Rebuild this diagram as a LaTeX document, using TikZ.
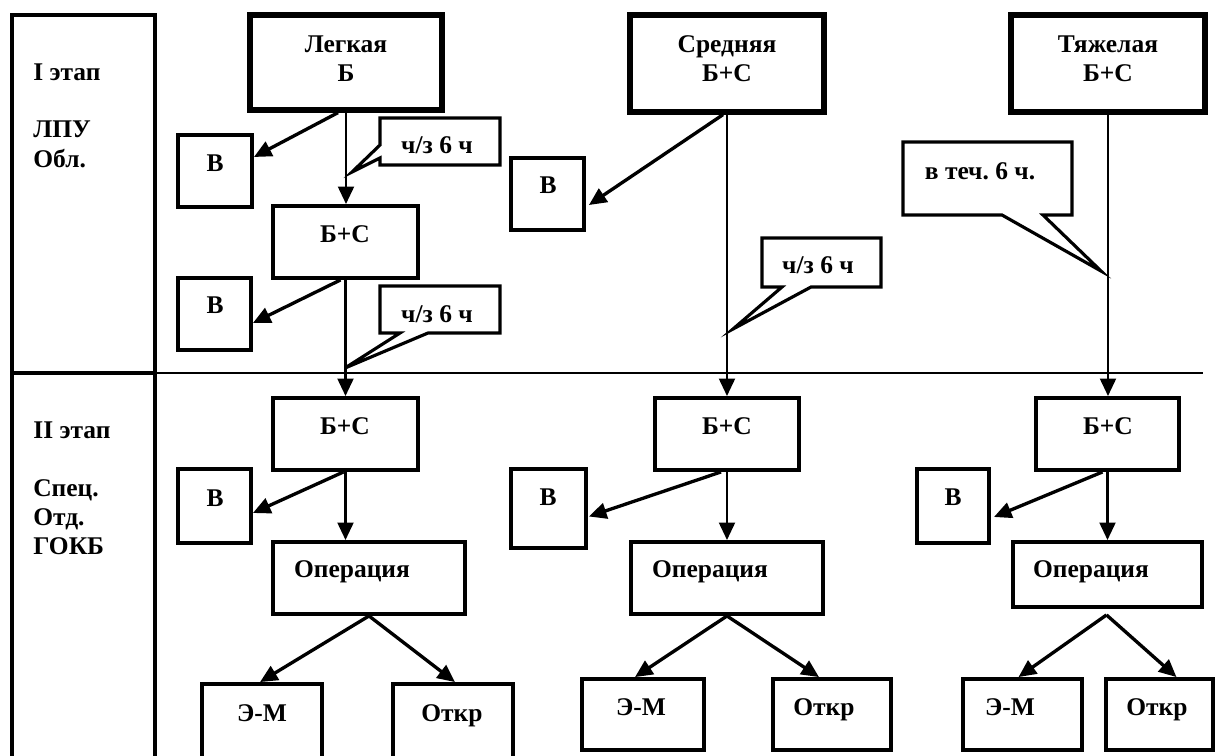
\documentclass[tikz,border=0pt]{standalone}
\usepackage{fontspec}
\setmainfont{Liberation Serif}
\usetikzlibrary{arrows.meta,calc,fit}
\frenchspacing
\begin{document}
\begin{tikzpicture}[x=0.02cm,y=-0.02cm,
  font=\fontsize{14.5}{16}\selectfont\bfseries,
  box/.style={draw,line width=2.2pt,inner sep=0pt,line join=miter},
  topbox/.style={box,line width=3pt},
  txt/.style={inner sep=0pt,anchor=base},
  ltxt/.style={inner sep=0pt,anchor=base west},
  arr/.style={line width=1.9pt,-{Triangle[length=10pt,width=9pt]}},
  varr/.style={line width=1.6pt,-{Triangle[length=10pt,width=9pt]}},
  callout/.style={draw,line width=1.8pt,line join=miter,fill=white},
  sep/.style={line width=1.1pt}]
\clip (0,0) rectangle (1215,755);
\fill[white] (0,0) rectangle (1215,755);

% left column
\node[box,fit={(12,15) (155,800)}] (left) {};
\draw[line width=2.2pt] (left.west |- 0,373) coordinate (sepL) -- (left.east |- 0,373) coordinate (sepM);
\coordinate (sepR) at (1203,373);
\draw[sep] (sepM) -- (sepR);
\node[ltxt] (s1a) at (33,80) {I этап};
\node[ltxt] (s1b) at (33,137) {ЛПУ};
\node[ltxt] (s1c) at (33,167) {Обл.};
\node[ltxt] (s2a) at (33,438) {II этап};
\node[ltxt] (s2b) at (33,496) {Спец.};
\node[ltxt] (s2c) at (33,525) {Отд.};
\node[ltxt] (s2d) at (33,554) {ГОКБ};

% top boxes
\node[topbox,fit={(250,15) (442,110)}] (L) {};
\node[txt] at (346,52) {Легкая};
\node[txt] at (346,81) {Б};
\node[topbox,fit={(630,15) (824,112)}] (S) {};
\node[txt] at (727,52) {Средняя};
\node[txt] at (727,81) {Б+С};
\node[topbox,fit={(1011,15) (1205,112)}] (T) {};
\node[txt] at (1108,52) {Тяжелая};
\node[txt] at (1108,81) {Б+С};

% callouts
\draw[callout] (380,118) -- (500,118) -- (500,165) -- (380,165) -- (380,158) -- (352,172) coordinate (c1tip) -- (380,145) -- cycle;
\node[txt] (c1) at (437,153) {ч/з 6 ч};
\draw[callout] (380,286) -- (500,286) -- (500,333) -- (428,333) -- (345,368) coordinate (c2tip) -- (400,333) -- (380,333) -- cycle;
\node[txt] (c2) at (437,322) {ч/з 6 ч};
\draw[callout] (762,238) -- (881,238) -- (881,287) -- (811,287) -- (733,329) coordinate (c3tip) -- (782,287) -- (762,287) -- cycle;
\node[txt] (c3) at (818,273) {ч/з 6 ч};
\draw[callout] (903,142) -- (1072,142) -- (1072,215) -- (1043,215) -- (1101,271) coordinate (c4tip) -- (1002,215) -- (903,215) -- cycle;
\node[txt] (c4) at (980,179) {в теч. 6 ч.};

% column 1
\node[box,fit={(178,135) (252,207)}] (V1) {};
\node[txt] at (215,171) {В};
\node[box,fit={(273,206) (418,278)}] (BS1) {};
\node[txt] at (345,242) {Б+С};
\node[box,fit={(178,278) (251,350)}] (V2) {};
\node[txt] at (215,313) {В};
\node[box,fit={(273,398) (418,470)}] (BS2) {};
\node[txt] at (345,434) {Б+С};
\node[box,fit={(178,469) (251,543)}] (V3) {};
\node[txt] at (215,506) {В};
\node[box,fit={(273,542) (465,614)}] (OP1) {};
\node[txt] at (352,577) {Операция};
\node[box,fit={(202,684) (322,800)}] (EM1) {};
\node[txt] at (262,721) {Э-М};
\node[box,fit={(393,684) (513,800)}] (OT1) {};
\node[txt] at (452,721) {Откр};

\draw[arr] ($(L.south)+(-8,0)$) -- ($(V1.east)+(0,-14)$);
\draw[varr] (L.south) -- (L.south |- BS1.north);
\draw[arr] ($(BS1.south)+(-5,0)$) -- ($(V2.east)+(0,9)$);
\draw[varr] (BS1.south) -- (BS1.south |- BS2.north);
\draw[arr] ($(BS2.south)+(-2,0)$) -- ($(V3.east)+(0,7)$);
\draw[varr] (BS2.south) -- (BS2.south |- OP1.north);
\draw[arr] (OP1.south) -- ($(EM1.north)+(-2,0)$);
\draw[arr] (OP1.south) -- ($(OT1.north)+(2,0)$);

% column 2
\node[box,fit={(511,158) (584,230)}] (V4) {};
\node[txt] at (548,193) {В};
\node[box,fit={(655,398) (799,470)}] (BS3) {};
\node[txt] at (727,434) {Б+С};
\node[box,fit={(511,469) (586,548)}] (V5) {};
\node[txt] at (548,505) {В};
\node[box,fit={(631,542) (823,614)}] (OP2) {};
\node[txt] at (710,577) {Операция};
\node[box,fit={(582,679) (704,750)}] (EM2) {};
\node[txt] at (641,715) {Э-М};
\node[box,fit={(773,679) (891,750)}] (OT2) {};
\node[txt] at (824,715) {Откр};

\draw[arr] ($(S.south)+(-4,0)$) -- ($(V4.east)+(3,11)$);
\draw[varr] (S.south) -- (BS3.north);
\draw[arr] ($(BS3.south)+(-6,0)$) -- ($(V5.east)+(1,8)$);
\draw[varr] (BS3.south) -- (OP2.north);
\draw[arr] (OP2.south) -- ($(EM2.north)+(-8,0)$);
\draw[arr] (OP2.south) -- ($(OT2.north)+(-13,0)$);

% column 3
\node[box,fit={(1036,398) (1179,470)}] (BS4) {};
\node[txt] at (1108,434) {Б+С};
\node[box,fit={(917,469) (989,543)}] (V6) {};
\node[txt] at (953,505) {В};
\node[box,fit={(1013,542) (1202,607)}] (OP3) {};
\node[txt] at (1091,577) {Операция};
\node[box,fit={(963,679) (1082,750)}] (EM3) {};
\node[txt] at (1010,715) {Э-М};
\node[box,fit={(1106,679) (1213,750)}] (OT3) {};
\node[txt] at (1157,715) {Откр};

\draw[varr] (T.south) -- (T.south |- BS4.north);
\draw[arr] ($(BS4.south)+(-5,0)$) -- ($(V6.east)+(3,11)$);
\draw[varr] (BS4.south) -- (BS4.south |- OP3.north);
\draw[arr] ($(OP3.south)+(-1,6)$) coordinate (op3o) -- ($(EM3.north)+(-4,0)$);
\draw[arr] (op3o) -- ($(OT3.north)+(17,0)$);
\end{tikzpicture}
\end{document}
